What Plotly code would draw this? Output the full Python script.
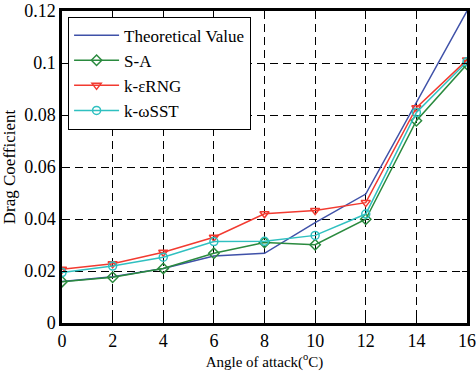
import plotly.graph_objects as go

angles = [0, 2, 4, 6, 8, 10, 12, 14, 16]
theoretical = [0.016, 0.0178, 0.021, 0.0258, 0.0268, 0.0386, 0.0496, 0.0848, 0.12]
sa = [0.0159, 0.0176, 0.021, 0.0268, 0.031, 0.0301, 0.0399, 0.0778, 0.0995]
ke_rng = [0.0207, 0.0228, 0.0272, 0.033, 0.042, 0.0433, 0.0463, 0.0828, 0.1012]
kw_sst = [0.0194, 0.0219, 0.0253, 0.0313, 0.0314, 0.0337, 0.0419, 0.081, 0.1005]
y_ticks = [0, 0.02, 0.04, 0.06, 0.08, 0.1, 0.12]
y_labels = ["0", "0.02", "0.04", "0.06", "0.08", "0.1", "0.12"]

names = ["Theoretical Value", "S-A", "k-\u03b5RNG", "k-\u03c9SST"]
colors = ["#3f51a8", "#2a8a3e", "#f23a30", "#2fc0c0"]
symbols = [None, "diamond-open", "triangle-down-open", "circle-open"]
series = [theoretical, sa, ke_rng, kw_sst]

fig = go.Figure()
for nm, col, sym, ys in zip(names, colors, symbols, series):
    if sym is None:
        fig.add_trace(go.Scatter(x=angles, y=ys, name=nm, mode="lines",
                                 line=dict(color=col, width=1.5)))
    else:
        fig.add_trace(go.Scatter(x=angles, y=ys, name=nm, mode="lines+markers",
                                 line=dict(color=col, width=1.5),
                                 marker=dict(symbol=sym, size=8, color=col,
                                             line=dict(width=1.5, color=col))))

font = "Liberation Serif, Times New Roman, serif"
axis_common = dict(showline=True, linewidth=2.5, linecolor="black", mirror="ticks",
                   ticks="inside", ticklen=5, tickwidth=1, tickcolor="black",
                   showgrid=True, gridcolor="black", gridwidth=1, griddash="8px,5px",
                   zeroline=False, automargin=False,
                   tickfont=dict(family=font, size=18, color="black"))

fig.update_layout(
    width=476, height=371,
    margin=dict(l=62, r=9, t=11, b=48),
    paper_bgcolor="white", plot_bgcolor="white",
    font=dict(family=font, color="black"),
    showlegend=True,
    legend=dict(x=0.015, y=0.982, xanchor="left", yanchor="top",
                bgcolor="white", bordercolor="black", borderwidth=1,
                font=dict(family=font, size=17, color="black"),
                tracegroupgap=0, itemwidth=45),
    xaxis=dict(range=[0, 16], tickvals=angles,
               title=dict(text="Angle of attack(<sup>o</sup>C)", standoff=6,
                          font=dict(family=font, size=15, color="black")),
               **axis_common),
    yaxis=dict(range=[0, 0.12], tickvals=y_ticks, ticktext=y_labels,
               title=dict(text="Drag Coefficient", standoff=6,
                          font=dict(family=font, size=17, color="black")),
               **axis_common),
)

fig.write_html("out.html")
